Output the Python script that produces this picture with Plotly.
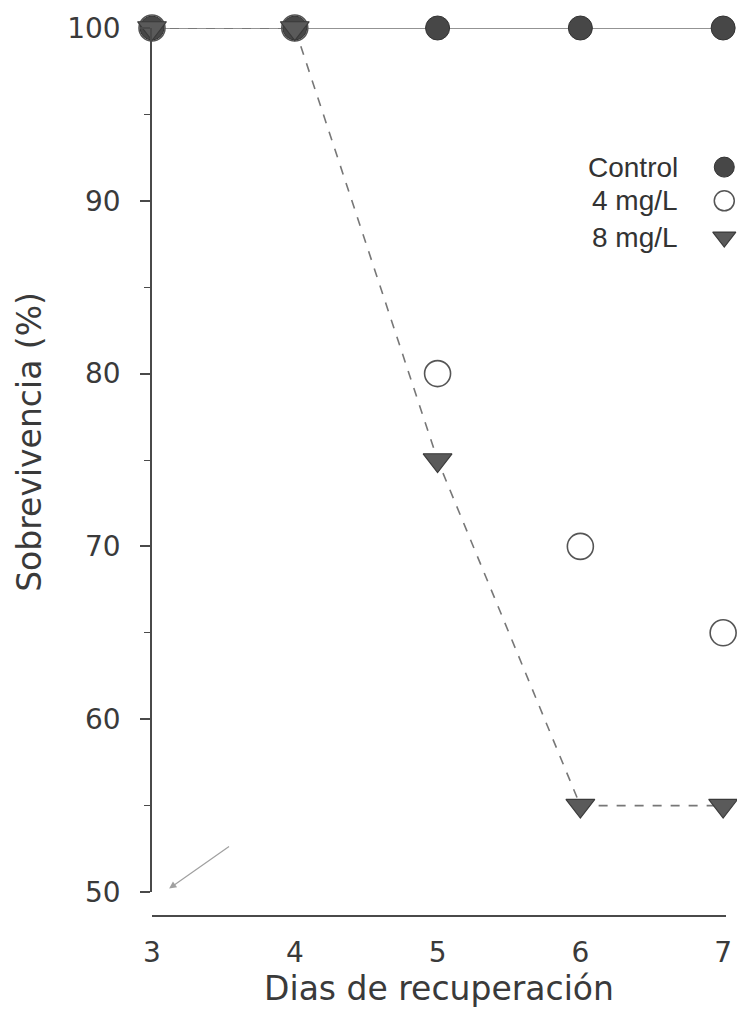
import plotly.graph_objects as go

dias = [3, 4, 5, 6, 7]
control = [100, 100, 100, 100, 100]
mg4 = [100, 100, 80, 70, 65]
mg8 = [100, 100, 75, 55, 55]

series_names = ["Control", "4 mg/L", "8 mg/L"]
x_ticks = [3, 4, 5, 6, 7]
y_ticks = [50, 60, 70, 80, 90, 100]

AX = "#4a4a4a"
TXT = "#3a3a3a"
fig = go.Figure()

fig.add_trace(go.Scatter(
    x=dias, y=mg8, mode="lines", line=dict(color="#777777", width=1.6, dash="dash"),
    showlegend=False, cliponaxis=False, hoverinfo="skip"))
fig.add_trace(go.Scatter(
    x=dias, y=control, mode="lines+markers", name=series_names[0],
    line=dict(color="#6f6f6f", width=1.6),
    marker=dict(symbol="circle", size=24, color="#474747", line=dict(color="#333333", width=1)),
    cliponaxis=False, showlegend=False))
fig.add_trace(go.Scatter(
    x=dias, y=mg4, mode="markers", name=series_names[1],
    marker=dict(symbol="circle", size=26, color="rgba(255,255,255,0)", line=dict(color="#555555", width=1.6)),
    cliponaxis=False, showlegend=False))
fig.add_trace(go.Scatter(
    x=dias, y=mg8, mode="markers", name=series_names[2],
    marker=dict(symbol="triangle-down", size=25, color="#5a5a5a", line=dict(color="#3a3a3a", width=1.2)),
    cliponaxis=False, showlegend=False))

# legend (markers to the right of the labels), drawn in an overlay axis
leg_y = [0.839, 0.80, 0.758]
leg_styles = [
    dict(symbol="circle", size=20, color="#474747", line=dict(color="#333333", width=1)),
    dict(symbol="circle", size=20, color="rgba(255,255,255,0)", line=dict(color="#555555", width=1.5)),
    dict(symbol="triangle-down", size=20, color="#5a5a5a", line=dict(color="#3a3a3a", width=1.2)),
]
for name, yy, st in zip(series_names, leg_y, leg_styles):
    fig.add_trace(go.Scatter(x=[0.997], y=[yy], xaxis="x2", yaxis="y2", mode="markers",
                             marker=st, showlegend=False, hoverinfo="skip", cliponaxis=False))
    fig.add_annotation(x=0.92, y=yy, xref="x2", yref="y2", text=name, showarrow=False,
                       xanchor="right", yanchor="middle",
                       font=dict(family="Liberation Sans, Arial, sans-serif", size=28, color="#333333"))

# faint hand-drawn arrow near origin
fig.add_annotation(x=3.12, y=50.2, ax=3.55, ay=52.7, xref="x", yref="y", axref="x", ayref="y",
                   showarrow=True, arrowhead=2, arrowsize=1.2, arrowwidth=1.2,
                   arrowcolor="#a0a0a0", text="")

font_main = "DejaVu Sans, sans-serif"

# y-axis title as an annotation (sits a bit above the axis centre, as in the original)
fig.add_annotation(x=-0.2125, y=0.534, xref="paper", yref="paper", text="Sobrevivencia (%)",
                   textangle=-90, showarrow=False, xanchor="center", yanchor="middle",
                   font=dict(size=33, family=font_main, color=TXT))

fig.update_layout(
    width=737, height=1014,
    paper_bgcolor="white", plot_bgcolor="white",
    margin=dict(l=144, r=19, t=20, b=106),
    showlegend=False,
    font=dict(family=font_main, color=TXT),
    xaxis=dict(
        range=[3, 7.02], tickvals=x_ticks, ticktext=[str(v) for v in x_ticks],
        showgrid=False, zeroline=False, showline=True, linecolor=AX, linewidth=1.5,
        ticks="", anchor="free", position=0, ticklabelstandoff=12, automargin=False,
        tickfont=dict(size=28, family=font_main, color=TXT),
        title=dict(text="Dias de recuperación", font=dict(size=33, family=font_main, color=TXT),
                   standoff=4),
    ),
    yaxis=dict(
        range=[50, 100], tickvals=y_ticks, domain=[0.027, 1], automargin=False,
        showgrid=False, zeroline=False, showline=True, linecolor=AX, linewidth=1.5,
        ticks="outside", ticklen=10, tickwidth=1.5, tickcolor=AX, ticklabelstandoff=14,
        minor=dict(dtick=5, ticks="outside", ticklen=6, tickcolor=AX, tickwidth=1.2),
        tickfont=dict(size=28, family=font_main, color=TXT),
    ),
    xaxis2=dict(range=[0, 1], overlaying="x", visible=False, anchor="y2"),
    yaxis2=dict(range=[0, 1], overlaying="y", visible=False, anchor="x2"),
)

fig.write_html("out.html")
